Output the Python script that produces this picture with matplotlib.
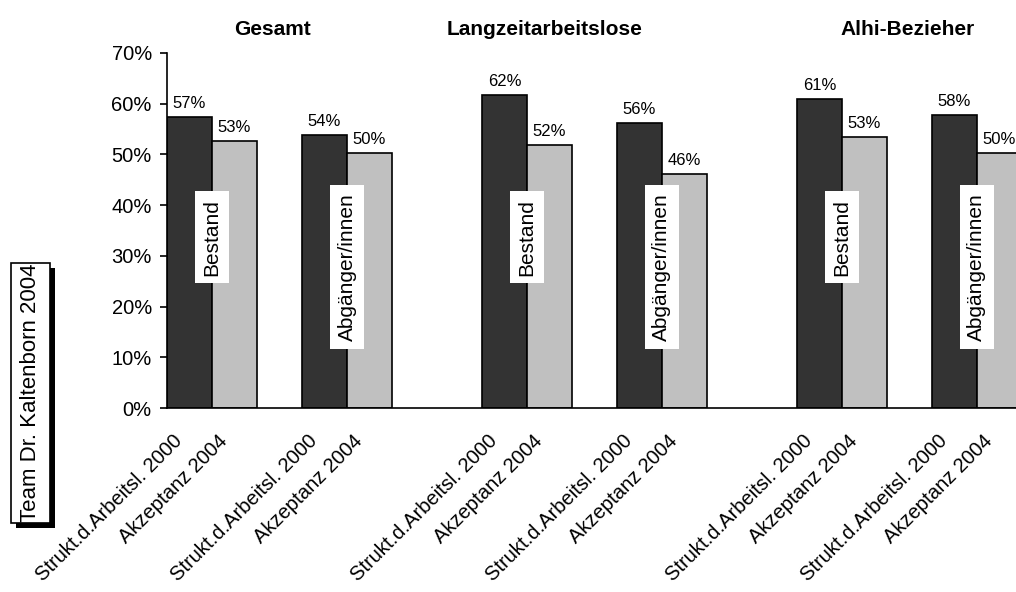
import numpy as np
import matplotlib.pyplot as plt
from matplotlib.patches import Rectangle
from matplotlib.transforms import ScaledTranslation

# pair positions (dark bar), light bar sits one unit to the right
pair_pos = [0, 3, 7, 10, 14, 17]
struktur = [0.573, 0.538, 0.617, 0.561, 0.609, 0.577]
akzeptanz = [0.526, 0.502, 0.518, 0.462, 0.534, 0.502]
struktur_lbl = ["57%", "54%", "62%", "56%", "61%", "58%"]
akzeptanz_lbl = ["53%", "50%", "52%", "46%", "53%", "50%"]
inner = ["Bestand", "Abgänger/innen"] * 3
groups = ["Gesamt", "Langzeitarbeitslose", "Alhi-Bezieher"]
xlabels = ["Strukt.d.Arbeitsl. 2000", "Akzeptanz 2004"]

# title placement (x in bar units)
title_x = [1.85, 7.9, 15.95]

plt.rcParams['font.family'] = ['Liberation Sans', 'DejaVu Sans']

fig = plt.figure(figsize=(10.16, 5.92), dpi=100)
ax = fig.add_axes([0.1644, 0.3108, 0.8356, 0.5997])

x = np.array(pair_pos)
ax.bar(x, struktur, width=1, color='#333333', edgecolor='black', linewidth=1.2, zorder=2)
ax.bar(x + 1, akzeptanz, width=1, color='#c0c0c0', edgecolor='black', linewidth=1.2, zorder=2)

for i in range(len(x)):
    ax.text(x[i], struktur[i] + 0.012, struktur_lbl[i], ha='center', va='bottom', fontsize=12)
    ax.text(x[i] + 1, akzeptanz[i] + 0.012, akzeptanz_lbl[i], ha='center', va='bottom', fontsize=12)
    ypos = 0.337 if inner[i] == "Bestand" else 0.278
    ax.text(x[i] + 0.5, ypos, inner[i], rotation=90, ha='center', va='center', fontsize=15,
            bbox=dict(facecolor='white', edgecolor='none', pad=5.5), zorder=3)

ax.set_xlim(-0.5, 18.37)
ax.set_ylim(0, 0.7)
ax.set_yticks(np.arange(0, 0.71, 0.1))
ax.set_yticklabels([f"{int(round(v * 100))}%" for v in np.arange(0, 0.71, 0.1)], fontsize=14.5)
ax.tick_params(axis='y', direction='out', length=5, width=1.2, pad=6)

ticks = np.concatenate([x, x + 1])
ticks.sort()
ax.set_xticks(ticks)
ax.set_xticklabels(xlabels * len(x), rotation=45, ha='right', va='top', fontsize=14.5,
                   rotation_mode='anchor')
ax.tick_params(axis='x', length=0, pad=8)
shift = ScaledTranslation(-17 / 100, -12 / 100, fig.dpi_scale_trans)
for lbl in ax.get_xticklabels():
    lbl.set_transform(lbl.get_transform() + shift)

ax.spines['top'].set_visible(False)
ax.spines['right'].set_visible(False)
ax.spines['left'].set_linewidth(1.2)
ax.spines['bottom'].set_linewidth(1.2)

for g in range(3):
    ax.text(title_x[g], 0.728, groups[g], ha='center', va='bottom', fontsize=15, fontweight='bold')

# side note: white box with black shadow
fig.patches.append(Rectangle((0.0157, 0.108), 0.0384, 0.439, transform=fig.transFigure,
                             facecolor='black', edgecolor='none', zorder=1))
fig.patches.append(Rectangle((0.0108, 0.1166), 0.0384, 0.439, transform=fig.transFigure,
                             facecolor='white', edgecolor='black', linewidth=1.2, zorder=2))
fig.text(0.030, 0.336, "Team Dr. Kaltenborn 2004", rotation=90, ha='center', va='center',
         fontsize=16, zorder=3)

fig.savefig("out.png", dpi=100)
